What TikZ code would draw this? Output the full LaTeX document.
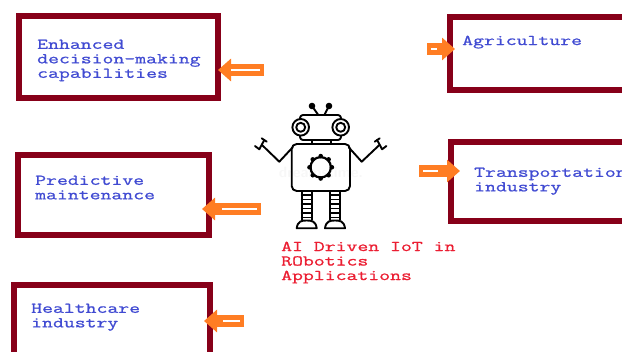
\documentclass[tikz,border=0pt]{standalone}
\usepackage{fontspec}
\usetikzlibrary{arrows.meta}
\newfontfamily\wideface[FakeStretch=1.41,FakeBold=1]{Latin Modern Mono}
\definecolor{boxred}{RGB}{135,0,25}
\definecolor{arrorange}{RGB}{255,125,35}
\definecolor{textblue}{RGB}{65,75,210}
\definecolor{textred}{RGB}{235,30,50}

\tikzstyle{box}=[draw=boxred, line width=6, outer sep=0, inner sep=0]
\tikzstyle{lab}=[textblue, anchor=north west, inner sep=0, align=left, font=\wideface\fontsize{15}{14.5}\selectfont]
\tikzstyle{arr}=[draw=arrorange, line width=12, line join=round, -{Triangle[length=13,width=22]}, postaction={draw=white, line width=1.5, -, shorten >=13, shorten <=4}]
\tikzstyle{bot}=[black, line width=1.9, line join=round, line cap=round]

\begin{document}
\begin{tikzpicture}[x=1pt, y=-1pt]
  \useasboundingbox (0,0) rectangle (622,352);
  \clip (0,0) rectangle (622,352);

  \node [box, minimum width=199, minimum height=82] (enhanced) at (118.5,57) {};
  \node [box, minimum width=190, minimum height=73] (agri) at (545,53.5) {};
  \node [box, minimum width=190, minimum height=79] (trans) at (546,181.5) {};
  \node [box, minimum width=191, minimum height=80] (pred) at (113.5,195) {};
  \node [box, minimum width=196, minimum height=90] (health) at (112,330) {};

  \node [lab] (enhancedtxt) at (37,39.5) {Enhanced\\decision-making\\capabilities};
  \node [lab] (agritxt) at (462,35.5) {Agriculture};
  \node [lab] (transtxt) at (474,167.5) {Transportation\\industry};
  \node [lab] (predtxt) at (35,175.5) {Predictive\\maintenance};
  \node [lab] (healthtxt) at (31,303.5) {Healthcare\\industry};
  \node [lab, textred] (title) at (281,241.5) {AI Driven IoT in\\RObotics\\Applications};

  \coordinate (a1) at (264,70);
  \coordinate (a2) at (427,49);
  \coordinate (a3) at (419,171);
  \coordinate (a4) at (261,209);
  \coordinate (a5) at (244,321);
  \draw [arr] (a1) -- (a1 -| enhanced.east);
  \draw [arr, shorten >=-5] (a2) -- (a2 -| agri.west);
  \draw [arr, shorten >=-9] (a3) -- (a3 -| trans.west);
  \draw [arr, shorten >=-7] (a4) -- (a4 -| pred.east);
  \draw [arr, shorten >=-6] (a5) -- (a5 -| health.east);

  % robot
  \node [black!3, font=\sffamily\bfseries\fontsize{15}{15}\selectfont] (mark) at (321,172) {dreamstime.};
  \draw [bot] (318.3,115) -- (312,106);
  \draw [bot] (324.3,115) -- (329,106);
  \fill (312,106) circle (3.3);
  \fill (329,106) circle (3.3);
  \draw [bot, rounded corners=3] (300,115) rectangle (341,140);
  \foreach \x in {300.7,340.7} {
    \draw [bot, fill=white] (\x,127.3) circle (8.3);
    \draw [bot, fill=white] (\x,127.3) circle (4.5);
  }
  \draw [bot] (311.7,140) rectangle (331,144);
  \draw [bot, rounded corners=5] (291.7,144) rectangle (350,191);
  % arms
  \draw [bot] (292.7,147.3) -- (279.3,161.7) -- (261.7,144.7);
  \draw [bot] (255,146) -- (259.3,149.3) -- (264.3,140);
  \draw [bot] (261.7,138.3) -- (266.7,141.7);
  \draw [bot] (348.7,147.3) -- (361.7,161.7) -- (379.7,144.7);
  \draw [bot] (386.4,146) -- (382.1,149.3) -- (377.1,140);
  \draw [bot] (379.7,138.3) -- (374.7,141.7);
  % gear
  \draw [bot, line width=2.2] (320.7,167.3) circle (10.2);
  \foreach \a in {0,45,...,315} {
    \fill (320.7,167.3) ++(\a:11.2) circle (2.3);
  }
  % legs
  \foreach \x in {301.7,330} {
    \draw [bot] (\x,191) -- (\x,220);
    \draw [bot] (\x+10,191) -- (\x+10,220);
    \foreach \y in {195,199.5,...,218} {
      \draw [bot] (\x,\y) -- (\x+10,\y);
    }
    \draw [bot, fill=white] (\x-5,228.3) .. controls (\x-4,221) and (\x,220.5) .. (\x+5,220.5) .. controls (\x+10,220.5) and (\x+14,221) .. (\x+15,228.3) -- cycle;
  }
\end{tikzpicture}
\end{document}
